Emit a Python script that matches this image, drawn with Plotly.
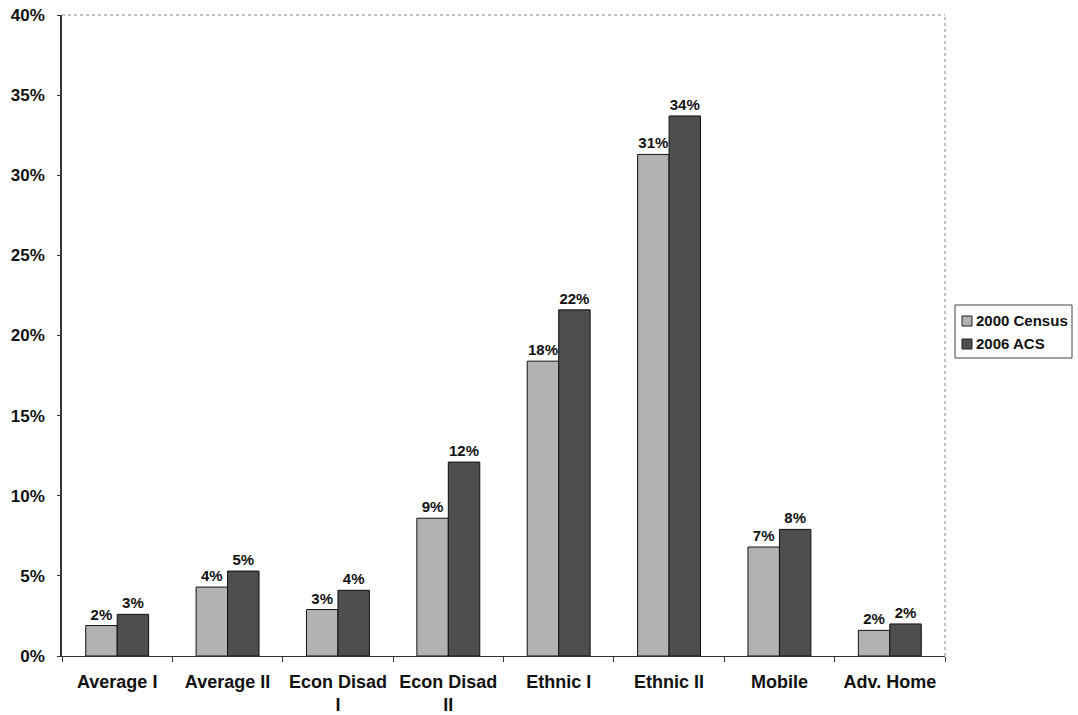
import plotly.graph_objects as go

categories = ["Average I", "Average II", "Econ Disad<br>I", "Econ Disad<br>II",
              "Ethnic I", "Ethnic II", "Mobile", "Adv. Home"]
census_2000 = [0.019, 0.043, 0.029, 0.086, 0.184, 0.313, 0.068, 0.016]
acs_2006 = [0.026, 0.053, 0.041, 0.121, 0.216, 0.337, 0.079, 0.020]
series_names = ["2000 Census", "2006 ACS"]
series_colors = ["#b2b2b2", "#4e4e4e"]

font_family = "Liberation Sans, Arial, sans-serif"
W, H = 1078, 715
M_L, M_R, M_T, M_B = 62, 133, 15, 59
PW, PH = W - M_L - M_R, H - M_T - M_B


def px_x(px):
    return (px - M_L) / PW


def px_y(py):
    return (H - M_B - py) / PH


fig = go.Figure()
for name, vals, col in zip(series_names, [census_2000, acs_2006], series_colors):
    fig.add_trace(go.Bar(
        name=name, x=categories, y=vals,
        marker=dict(color=col, line=dict(color="#111111", width=1)),
        texttemplate="<b>%{y:.0%}</b>", textposition="outside", cliponaxis=False,
        textfont=dict(family=font_family, size=15, color="#111111"),
    ))

fig.update_layout(
    width=W, height=H,
    margin=dict(l=M_L, r=M_R, t=M_T, b=M_B, autoexpand=False),
    paper_bgcolor="white", plot_bgcolor="white",
    barmode="group", bargap=0.43, bargroupgap=0,
    font=dict(family=font_family, color="#111111"),
    showlegend=False,
    xaxis=dict(
        showline=True, linecolor="#333333", linewidth=1,
        ticks="outside", tickson="boundaries", ticklen=5, tickcolor="#333333",
        tickfont=dict(family=font_family, size=18, color="#111111", weight="bold"),
        ticklabelstandoff=9,
        showgrid=False,
    ),
    yaxis=dict(
        range=[0, 0.40], dtick=0.05, tickformat=".0%",
        showline=True, linecolor="#333333", linewidth=1.5,
        ticks="outside", ticklen=3, tickcolor="#333333",
        tickfont=dict(family=font_family, size=17, color="#111111", weight="bold"),
        ticklabelstandoff=9,
        showgrid=False, zeroline=False,
    ),
)

# dotted border along the top and right of the plotting area
fig.add_shape(type="line", xref="paper", yref="paper", x0=0, x1=1, y0=1, y1=1,
              line=dict(color="#888888", width=1, dash="dot"))
fig.add_shape(type="line", xref="paper", yref="paper", x0=1, x1=1, y0=0, y1=1,
              line=dict(color="#888888", width=1, dash="dot"))

# legend box with swatches
fig.add_shape(type="rect", xref="paper", yref="paper",
              x0=px_x(955), x1=px_x(1072), y0=px_y(358), y1=px_y(305),
              line=dict(color="#444444", width=1), fillcolor="white")
for i, (name, col) in enumerate(zip(series_names, series_colors)):
    cy = 321 + i * 23
    fig.add_shape(type="rect", xref="paper", yref="paper",
                  x0=px_x(962), x1=px_x(972), y0=px_y(cy + 5), y1=px_y(cy - 5),
                  line=dict(color="#222222", width=1), fillcolor=col)
    fig.add_annotation(xref="paper", yref="paper", x=px_x(974), y=px_y(cy),
                       text=f"<b>{name}</b>", showarrow=False,
                       xanchor="left", yanchor="middle",
                       font=dict(family=font_family, size=15, color="#111111"))

fig.write_html("out.html")
